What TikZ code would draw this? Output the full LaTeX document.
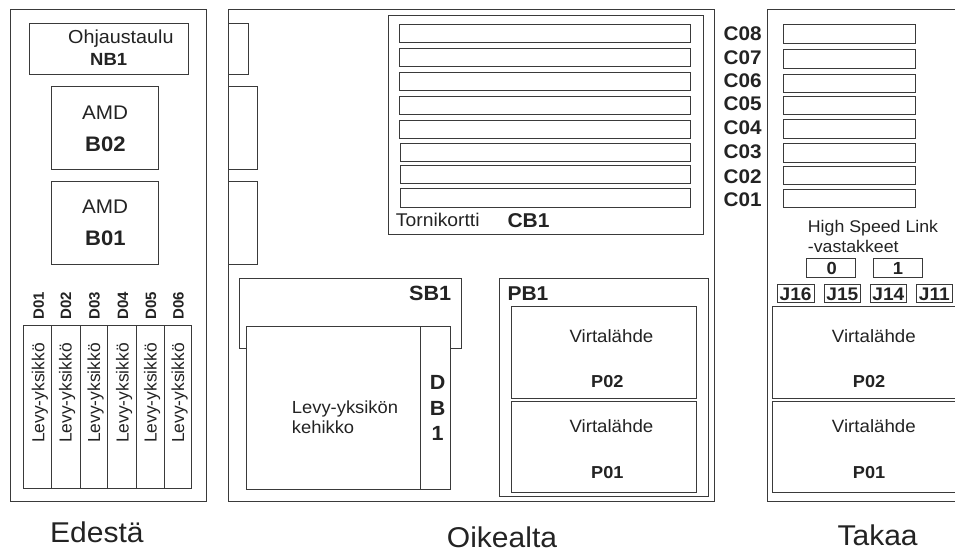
\documentclass[tikz,border=0pt]{standalone}
\usepackage{fontspec}
\setmainfont{Liberation Sans}
\newfontfamily\widefam[FakeStretch=1.05]{Liberation Sans}
\newcommand{\fsz}[1]{\fontsize{#1}{#1}\selectfont}
\definecolor{ink}{HTML}{232323}
\definecolor{edge}{HTML}{3A3A3A}
\tikzset{
  box/.style={draw=edge,line width=0.95pt,fill=white},
  lab/.style={inner sep=0pt,anchor=base west,text=ink,font=\widefam\fsz{17.8}},
  clab/.style={inner sep=0pt,anchor=base,text=ink,font=\widefam\fsz{17.8}},
  blab/.style={inner sep=0pt,anchor=base west,text=ink,font=\widefam\bfseries\fsz{17.3}},
  cblab/.style={inner sep=0pt,anchor=base,text=ink,font=\widefam\bfseries\fsz{17.5}},
  head/.style={lab,font=\widefam\fsz{28.6}},
  rlab/.style={inner sep=0pt,anchor=base west,rotate=90,text=ink,font=\fsz{17.4}},
  rblab/.style={inner sep=0pt,anchor=base west,rotate=90,text=ink,font=\bfseries\fsz{15}},
}
\begin{document}
\begin{tikzpicture}[x=1pt,y=-1pt]
\useasboundingbox (0,0) rectangle (955,548);
\fill[white] (0,0) rectangle (955,548);
% panels
\draw[box] (10,9.5) rectangle (206.5,501);
\draw[box] (228,9.5) rectangle (714.7,501);
\draw[box,fill=none] (955,9.5) -- (767.5,9.5) -- (767.5,501) -- (955,501);
% left panel
\draw[box] (29,23.5) rectangle (188.5,74);
\draw[box] (51.5,86) rectangle (158.5,169.5);
\draw[box] (51.5,181) rectangle (158.5,264);
\node[lab,font=\widefam\fsz{18.8}] (ohj) at (68,44) {Ohjaustaulu};
\node[blab,font=\widefam\bfseries\fsz{17.6}] (nb1) at (90,66) {NB1};
\node[lab,font=\widefam\fsz{19.7}] (amd2) at (82,119.3) {AMD};
\node[blab,font=\widefam\bfseries\fsz{21}] (b02) at (85,152) {B02};
\node[lab,font=\widefam\fsz{19.7}] (amd1) at (82,214) {AMD};
\node[blab,font=\widefam\bfseries\fsz{21}] (b01) at (85,245.7) {B01};
\draw[box] (23.5,325.7) rectangle (191.5,488.7);
\foreach \x in {51.5,80,107.5,136,164} \draw[box,fill=none] (\x,325.7) -- (\x,488.7);
\foreach \x/\n in {44.3/1,71.7/2,100/3,128.7/4,156.7/5,184/6} {
  \node[rlab] (lv\n) at (\x,443) {Levy-yksikkö};
  \node[rblab] (d\n) at (\x-0.5,320) {D0\n};
}
\node[head] (edesta) at (50,542.3) {Edestä};
% middle panel
\draw[box] (228,23.5) rectangle (248.5,74);
\draw[box] (228,86) rectangle (257,169.5);
\draw[box] (228,181) rectangle (257,264);
\draw[box] (388,15.5) rectangle (703.7,234.5);
\foreach \a/\b/\c in {399.5/24/42,399.5/48.5/66.5,399.5/72/90,399.5/96/114.5,399.5/120/138,400.5/143/161,400.5/165.5/183.5,400.5/188.5/207}
  \draw[box] (\a,\b) rectangle (690,\c);
\node[lab,font=\widefam\fsz{18.4}] (torni) at (395.7,226.7) {Tornikortti};
\node[blab,font=\widefam\bfseries\fsz{20}] (cb1) at (507.3,227.3) {CB1};
\draw[box] (239.5,278) rectangle (461.5,348);
\draw[box] (246,326.7) rectangle (420,489.7);
\draw[box] (420,326.7) rectangle (450,489.7);
\node[blab,font=\widefam\bfseries\fsz{20.6}] (sb1) at (409,300.7) {SB1};
\node[lab,font=\widefam\fsz{17.5}] (levy1) at (291.7,413.3) {Levy-yksikön};
\node[lab,font=\widefam\fsz{17.5}] (levy2) at (291.7,433.3) {kehikko};
\node[cblab,font=\widefam\bfseries\fsz{20.5}] (db1) at (437.7,389.3) {D};
\node[cblab,font=\widefam\bfseries\fsz{20.5}] (db2) at (437.7,415) {B};
\node[cblab,font=\widefam\bfseries\fsz{20.5}] (db3) at (437.7,440.7) {1};
\draw[box] (499.7,278) rectangle (708.7,496.7);
\node[blab,font=\widefam\bfseries\fsz{20}] (pb1) at (507.3,300.7) {PB1};
\draw[box] (511.3,306.7) rectangle (696.7,398);
\draw[box] (511.3,401) rectangle (696.7,492.5);
\node[lab] (v2) at (569.3,342.3) {Virtalähde};
\node[blab] (p2) at (591,387.7) {P02};
\node[lab] (v1) at (569.3,432.7) {Virtalähde};
\node[blab] (p1) at (591,478.3) {P01};
\node[head] (oikealta) at (446.7,547) {Oikealta};
% connector labels and right panel
\foreach \n/\y in {8/40.7,7/64.3,6/88,5/111,4/134.7,3/159,2/183,1/207}
  \node[blab,font=\widefam\bfseries\fsz{19.7}] (c\n) at (723.5,\y) {C0\n};
\foreach \b/\c in {24/43,49.5/68.5,74/92,96/114,119.5/138,143.5/162,166.5/184.5,189.5/207.5}
  \draw[box] (783,\b) rectangle (915.5,\c);
\node[lab,font=\widefam\fsz{16.9}] (hsl) at (807.7,232.3) {High Speed Link};
\node[lab,font=\widefam\fsz{16.9}] (vast) at (807.7,252.3) {-vastakkeet};
\draw[box] (806.7,258.3) rectangle (855.7,277);
\draw[box] (873,258.3) rectangle (922,277);
\node[cblab] (h0) at (831.7,274) {0};
\node[cblab] (h1) at (898,274) {1};
\foreach \a/\b/\t in {777.3/814/J16,824/860.7/J15,870/906.7/J14,916/952.7/J11} {
  \draw[box,line width=0.7pt] (\a,284) rectangle (\b,302);
  \node[cblab,font=\widefam\bfseries\fsz{18.2}] (\t) at ({(\a+\b)/2},300) {\t};
}
\draw[box,fill=none] (955,306.7) -- (772.7,306.7) -- (772.7,398) -- (955,398);
\draw[box,fill=none] (955,401) -- (772.7,401) -- (772.7,492.5) -- (955,492.5);
\node[lab] (rv2) at (831.7,342.3) {Virtalähde};
\node[blab] (rp2) at (852.7,387.7) {P02};
\node[lab] (rv1) at (831.7,432.7) {Virtalähde};
\node[blab] (rp1) at (852.7,478.3) {P01};
\node[head] (takaa) at (837.3,545.3) {Takaa};
\end{tikzpicture}
\end{document}
